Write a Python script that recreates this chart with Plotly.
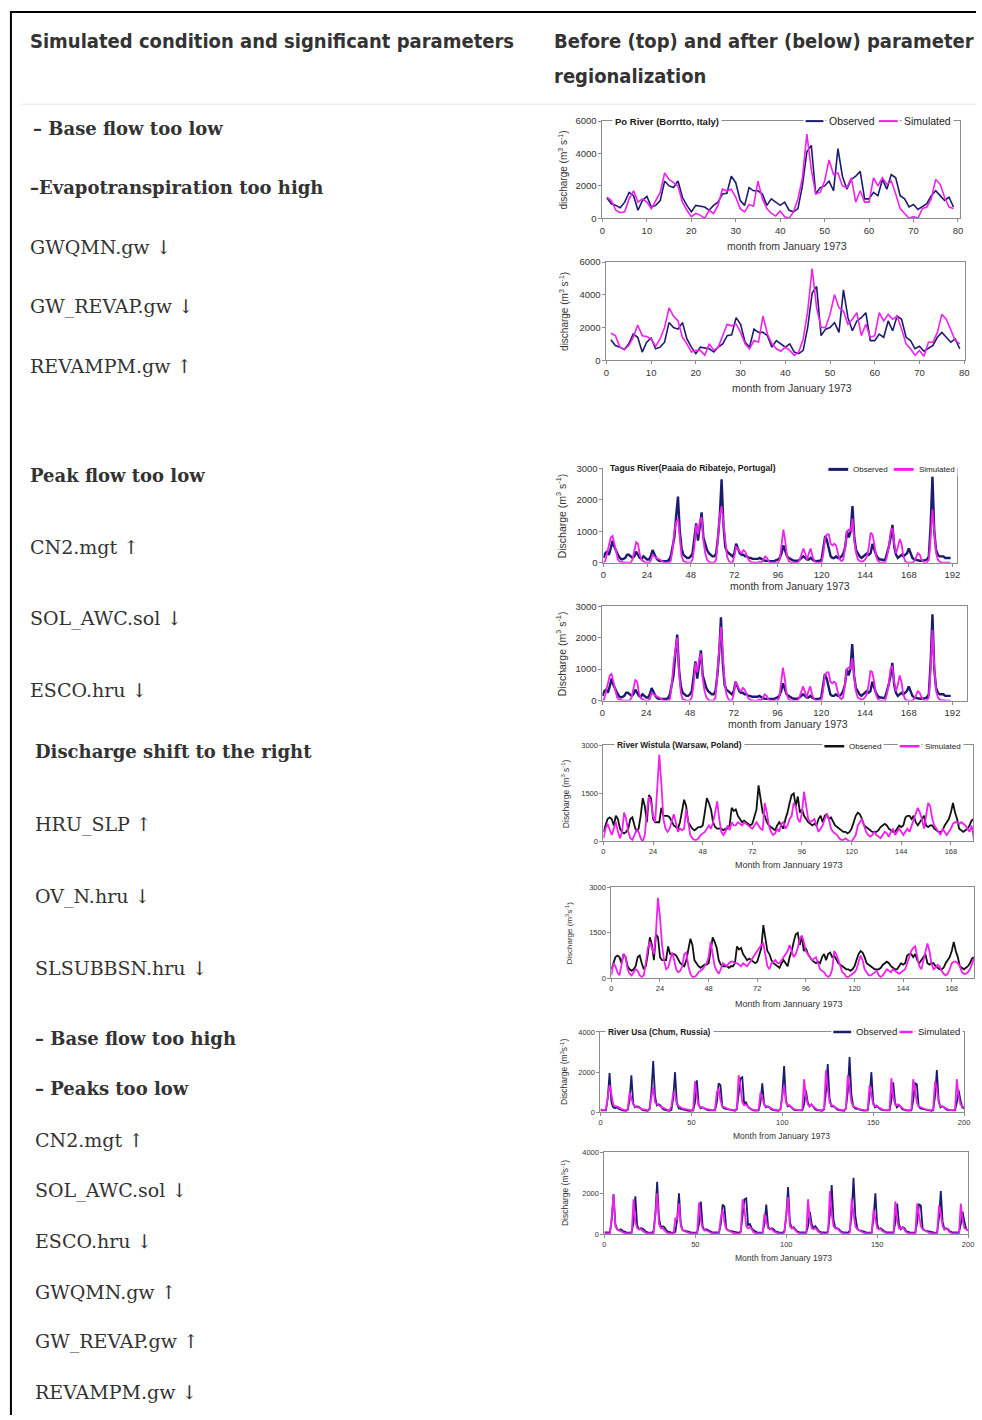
import plotly.graph_objects as go

# ---------------- data ----------------
# Po River (Borretto, Italy), months 1..79
po_month = list(range(1, 80))
po_observed = [
    1250, 900, 800, 650, 1000, 1600, 1400, 500, 1100, 1350,
    700, 800, 1100, 2300, 2000, 1900, 2300, 1300, 800, 400,
    800, 750, 700, 500, 800, 1000, 1500, 1550, 2600, 2200,
    1100, 800, 1900, 1700, 1700, 1500, 800, 1200, 1000, 800,
    1000, 500, 400, 600, 2000, 4100, 4500, 1500, 1900, 2000,
    2300, 1700, 4300, 2600, 1800, 2400, 2600, 2900, 1200, 1200,
    1600, 1400, 2400, 1800, 2700, 2500, 1400, 1200, 700, 850,
    550, 700, 900, 1400, 1700, 1400, 1100, 1300, 700]
po_sim_before = [
    1300, 1100, 500, 350, 400, 1200, 1700, 1000, 1200, 1000,
    600, 1100, 1600, 2800, 2400, 2200, 2000, 1000, 500, 100,
    300, 200, 0, 500, 300, 800, 1800, 1700, 1800, 1300,
    600, 400, 850, 750, 2300, 1200, 600, 300, 150, 450,
    100, 0, 400, 1200, 2500, 5200, 3000, 1500, 1600, 2300,
    3600, 2700, 2800, 2000, 1900, 2500, 1000, 1700, 1000, 1000,
    2500, 2000, 2500, 2100, 2300, 1500, 600, 300, 0, 100,
    0, 600, 700, 1200, 2400, 2100, 1300, 700, 600]
po_sim_after = [
    1650, 1500, 800, 650, 900, 1400, 2150, 1500, 1450, 1300,
    850, 1300, 2000, 3200, 2700, 2400, 1400, 1000, 500, 600,
    600, 300, 1000, 600, 800, 1500, 2200, 2100, 2200, 1700,
    1000, 700, 1200, 1100, 2700, 1600, 1000, 700, 550, 800,
    600, 300, 500, 1300, 3000, 5600, 3200, 2000, 2000, 2800,
    4000, 3200, 3000, 2200, 2500, 2900, 1500, 2200, 1400, 1500,
    2900, 2400, 2800, 2500, 2700, 1900, 1000, 700, 300, 600,
    250, 1100, 1100, 1700, 2800, 2500, 1800, 1200, 1000]

# Tagus River (Ribatejo, Portugal), months 0..191
tagus_month = list(range(0, 192))
tagus_observed = [
    150, 300, 350, 250, 450, 700, 500, 350, 250, 150, 100, 120,
    150, 250, 250, 200, 150, 200, 350, 250, 150, 120, 200, 150,
    100, 100, 200, 400, 250, 150, 80, 50, 50, 60, 50, 50,
    80, 200, 500, 800, 1500, 2100, 1000, 450, 250, 200, 150, 150,
    200, 300, 700, 1250, 700, 1100, 1600, 800, 550, 400, 300, 250,
    200, 200, 300, 800, 1500, 2650, 1200, 500, 350, 300, 250, 200,
    300, 600, 450, 300, 250, 250, 200, 200, 150, 150, 120, 120,
    100, 120, 150, 100, 80, 60, 50, 60, 50, 50, 50, 80,
    100, 150, 300, 550, 400, 200, 150, 100, 80, 60, 50, 60,
    100, 150, 200, 150, 100, 100, 150, 100, 60, 50, 50, 60,
    100, 500, 850, 700, 400, 200, 150, 150, 200, 150, 150, 200,
    300, 500, 1000, 800, 1000, 1800, 800, 400, 300, 200, 150, 200,
    250, 300, 250, 300, 600, 400, 250, 150, 100, 100, 80, 100,
    300, 500, 800, 1200, 500, 250, 150, 200, 250, 200, 250, 300,
    450, 300, 150, 100, 80, 60, 60, 60, 60, 80, 100, 200,
    1200, 2750, 1000, 400, 250, 200, 200, 200, 150, 150, 150, 150]
tagus_sim_before = [
    0, 50, 300, 600, 800, 850, 600, 300, 100, 30, 10, 10,
    0, 0, 0, 0, 100, 350, 650, 600, 250, 80, 30, 10,
    0, 0, 50, 250, 200, 150, 120, 100, 50, 20, 0, 0,
    0, 50, 400, 1000, 1300, 1400, 700, 200, 50, 20, 0, 0,
    0, 100, 500, 1200, 900, 1300, 1450, 700, 300, 100, 30, 0,
    0, 0, 100, 800, 1500, 1800, 1300, 600, 200, 50, 0, 0,
    200, 500, 450, 350, 300, 400, 350, 200, 80, 20, 0, 0,
    0, 0, 30, 0, 100, 200, 150, 30, 0, 0, 0, 0,
    0, 100, 600, 1050, 700, 200, 50, 10, 0, 0, 0, 0,
    100, 300, 450, 300, 100, 300, 450, 200, 50, 0, 0, 0,
    0, 300, 800, 900, 900, 600, 550, 600, 550, 300, 100, 50,
    100, 500, 1000, 1050, 1000, 1400, 700, 300, 100, 50, 30, 50,
    100, 200, 500, 950, 900, 600, 200, 50, 0, 0, 0, 0,
    200, 500, 1000, 1100, 600, 300, 500, 750, 600, 200, 50, 0,
    0, 0, 0, 50, 200, 300, 250, 100, 30, 0, 0, 100,
    800, 1700, 1000, 300, 100, 30, 10, 0, 0, 0, 0, 0]
tagus_sim_after = [
    0, 50, 300, 600, 800, 850, 600, 300, 100, 30, 10, 10,
    0, 0, 0, 0, 100, 350, 650, 600, 250, 80, 30, 10,
    0, 0, 50, 250, 200, 150, 120, 100, 50, 20, 0, 0,
    0, 50, 500, 1200, 1700, 2000, 900, 250, 50, 20, 0, 0,
    0, 100, 500, 1200, 900, 1300, 1500, 700, 300, 100, 30, 0,
    0, 0, 100, 900, 1800, 2350, 1500, 600, 200, 50, 0, 0,
    200, 600, 500, 350, 300, 400, 350, 200, 80, 20, 0, 0,
    0, 0, 30, 0, 100, 200, 150, 30, 0, 0, 0, 0,
    0, 100, 600, 1050, 700, 200, 50, 10, 0, 0, 0, 0,
    100, 300, 450, 300, 100, 300, 450, 200, 50, 0, 0, 0,
    0, 300, 800, 900, 900, 600, 550, 600, 550, 300, 100, 50,
    100, 500, 1000, 1050, 1000, 1350, 700, 300, 100, 50, 30, 50,
    100, 200, 500, 950, 900, 600, 200, 50, 0, 0, 0, 0,
    200, 500, 1000, 1100, 600, 300, 500, 800, 600, 200, 50, 0,
    0, 0, 0, 50, 200, 300, 250, 100, 30, 0, 0, 100,
    1000, 2250, 1100, 300, 100, 30, 10, 0, 0, 0, 0, 0]

# River Wistula (Warsaw, Poland), months 0..179
wistula_month = list(range(0, 180))
wistula_observed = [
    300, 500, 700, 750, 700, 500, 800, 700, 400, 300, 250, 300,
    400, 700, 750, 500, 300, 400, 800, 1350, 1100, 600, 1450, 1350,
    700, 600, 600, 600, 1050, 800, 800, 800, 750, 600, 500, 450,
    400, 600, 900, 1300, 1100, 600, 500, 400, 350, 400, 450, 450,
    500, 900, 1350, 1200, 1000, 600, 450, 400, 400, 400, 350, 400,
    400, 500, 1050, 950, 1000, 800, 700, 600, 650, 600, 550, 500,
    550, 800, 1000, 1750, 1300, 900, 800, 600, 500, 450, 400, 350,
    500, 600, 500, 400, 700, 900, 1200, 1450, 1500, 1100, 1400, 900,
    1000, 800, 700, 600, 550, 500, 550, 500, 700, 800, 600, 800,
    850, 700, 750, 600, 500, 450, 400, 350, 300, 300, 250, 300,
    400, 600, 800, 900, 850, 700, 500, 450, 400, 350, 300, 300,
    300, 350, 450, 500, 550, 500, 400, 350, 300, 300, 400, 500,
    450, 500, 750, 800, 800, 700, 800, 600, 500, 600, 700, 800,
    500, 450, 500, 500, 400, 350, 300, 300, 350, 500, 600, 700,
    900, 1200, 900, 700, 400, 350, 300, 350, 400, 500, 650, 700]
wistula_sim_before = [
    100, 400, 550, 400, 200, 400, 600, 300, 100, 300, 900, 700,
    300, 100, 50, 200, 350, 300, 100, 0, 200, 900, 1400, 1200,
    800, 600, 1500, 2700, 1800, 700, 400, 300, 400, 650, 850, 600,
    300, 400, 350, 400, 1000, 600, 200, 100, 50, 50, 100, 200,
    250, 300, 400, 500, 400, 600, 900, 1250, 700, 300, 200, 300,
    500, 350, 600, 500, 500, 600, 550, 500, 600, 550, 500, 450,
    400, 500, 600, 500, 400, 350, 1200, 900, 500, 300, 200, 250,
    400, 300, 550, 600, 400, 500, 700, 800, 1200, 1100, 700, 600,
    900, 1550, 1100, 700, 600, 650, 700, 500, 300, 400, 500, 700,
    850, 700, 400, 300, 250, 200, 100, 50, 50, 100, 50, 0,
    0, 100, 200, 500, 600, 700, 500, 300, 200, 150, 200, 300,
    200, 150, 100, 200, 300, 250, 150, 300, 400, 200, 300, 400,
    300, 200, 300, 400, 300, 500, 700, 900, 1050, 900, 700, 400,
    800, 1200, 1100, 700, 500, 400, 300, 200, 400, 300, 200, 300,
    400, 550, 600, 600, 550, 600, 550, 500, 400, 300, 500, 100]
wistula_sim_after = [
    100, 500, 400, 200, 100, 400, 800, 700, 300, 150, 100, 200,
    300, 250, 100, 50, 100, 500, 1000, 1200, 1000, 800, 1500, 2650,
    2000, 1100, 600, 300, 350, 600, 850, 600, 300, 200, 250, 400,
    800, 850, 400, 150, 50, 50, 100, 200, 250, 300, 400, 500,
    700, 1200, 800, 400, 250, 150, 300, 500, 450, 400, 500, 550,
    550, 500, 500, 450, 400, 500, 450, 400, 500, 600, 700, 800,
    900, 1000, 1100, 1150, 700, 400, 300, 500, 550, 600, 500, 500,
    600, 700, 800, 900, 1100, 900, 700, 800, 1000, 1300, 1400, 1200,
    900, 800, 700, 600, 650, 700, 500, 300, 250, 200, 100, 50,
    100, 300, 900, 800, 600, 400, 200, 150, 50, 50, 100, 150,
    200, 300, 500, 750, 600, 300, 200, 100, 100, 150, 200, 250,
    100, 50, 100, 200, 300, 250, 200, 300, 250, 200, 150, 200,
    250, 300, 500, 700, 900, 1000, 1050, 700, 400, 300, 600, 900,
    1150, 900, 500, 300, 350, 450, 400, 250, 150, 100, 150, 300,
    500, 550, 550, 500, 400, 200, 150, 150, 200, 300, 500, 650]

# River Usa (Chum, Russia), months 0..200
usa_month = list(range(0, 201))
usa_observed = [
    100, 90, 80, 100, 700, 1950, 500, 250, 200, 250, 180, 120,
    100, 90, 80, 120, 600, 1850, 450, 250, 300, 280, 180, 120,
    100, 90, 80, 150, 1000, 2550, 800, 350, 400, 350, 200, 130,
    100, 90, 80, 120, 700, 2000, 500, 200, 180, 150, 120, 100,
    90, 80, 80, 100, 500, 1600, 400, 200, 250, 200, 150, 110,
    100, 90, 80, 100, 500, 1450, 1350, 300, 200, 180, 150, 110,
    100, 90, 80, 150, 900, 1700, 1750, 450, 500, 300, 200, 130,
    100, 90, 80, 100, 500, 1450, 400, 250, 300, 250, 150, 110,
    100, 90, 80, 150, 900, 2300, 600, 300, 350, 250, 150, 110,
    100, 90, 80, 100, 400, 1100, 500, 300, 400, 300, 150, 110,
    100, 90, 80, 150, 1000, 2400, 700, 300, 300, 250, 150, 110,
    100, 90, 80, 200, 1000, 2750, 900, 300, 200, 180, 150, 110,
    100, 90, 80, 100, 800, 2000, 500, 250, 300, 200, 150, 110,
    100, 90, 80, 100, 600, 1500, 500, 250, 350, 300, 150, 110,
    100, 90, 80, 100, 600, 1450, 1400, 300, 200, 180, 150, 110,
    100, 90, 80, 100, 800, 2100, 600, 250, 300, 250, 150, 110,
    100, 90, 80, 100, 500, 1100, 600, 250, 200]
usa_sim_before = [
    150, 120, 100, 150, 900, 1350, 900, 400, 300, 300, 250, 180,
    150, 120, 100, 150, 1000, 700, 400, 300, 250, 250, 200, 150,
    150, 120, 100, 200, 800, 1250, 500, 400, 350, 300, 250, 180,
    150, 120, 100, 300, 950, 900, 400, 300, 250, 200, 180, 150,
    130, 110, 100, 150, 1550, 800, 350, 250, 250, 200, 180, 150,
    130, 110, 100, 150, 1000, 1200, 600, 300, 250, 200, 180, 150,
    130, 110, 100, 200, 1850, 1300, 500, 350, 400, 300, 200, 150,
    130, 110, 100, 150, 1000, 700, 400, 300, 300, 250, 180, 150,
    130, 110, 100, 150, 800, 1350, 500, 350, 350, 250, 180, 150,
    130, 110, 100, 150, 1650, 800, 400, 300, 400, 300, 200, 150,
    130, 110, 100, 200, 2100, 1200, 500, 350, 350, 250, 180, 150,
    130, 110, 100, 200, 1850, 1200, 500, 300, 250, 200, 180, 150,
    130, 110, 100, 150, 1350, 900, 400, 300, 350, 250, 180, 150,
    130, 110, 100, 150, 1700, 800, 400, 350, 400, 300, 200, 150,
    130, 110, 100, 150, 1650, 1100, 500, 300, 250, 200, 180, 150,
    130, 110, 100, 150, 1550, 1200, 500, 300, 300, 250, 180, 150,
    130, 110, 100, 150, 1650, 800, 400, 300, 250]
usa_sim_after = [
    50, 40, 30, 50, 800, 1950, 400, 250, 200, 150, 100, 60,
    50, 40, 30, 50, 1700, 600, 300, 250, 250, 150, 100, 60,
    50, 40, 30, 50, 900, 2000, 500, 300, 300, 200, 100, 60,
    50, 40, 30, 800, 700, 1500, 400, 200, 150, 100, 80, 60,
    50, 40, 30, 50, 1550, 700, 300, 200, 200, 150, 100, 60,
    50, 40, 30, 50, 800, 1200, 600, 250, 200, 150, 100, 60,
    50, 40, 30, 100, 1700, 1200, 400, 300, 350, 250, 100, 60,
    50, 40, 30, 50, 1000, 700, 300, 250, 250, 150, 100, 60,
    50, 40, 30, 100, 900, 1800, 400, 300, 300, 200, 100, 60,
    50, 40, 30, 50, 1700, 700, 300, 250, 300, 200, 100, 60,
    50, 40, 30, 100, 2100, 1000, 400, 300, 300, 200, 100, 60,
    50, 40, 30, 100, 1750, 1000, 400, 250, 200, 150, 100, 60,
    50, 40, 30, 50, 1200, 800, 300, 250, 250, 150, 100, 60,
    50, 40, 30, 50, 1600, 700, 300, 300, 350, 200, 100, 60,
    50, 40, 30, 50, 1500, 1000, 400, 250, 200, 150, 100, 60,
    50, 40, 30, 50, 1400, 1000, 400, 250, 300, 200, 100, 60,
    50, 40, 30, 50, 1500, 700, 300, 250, 200]

# Left-hand column of the table: (text, bold)
conditions = [
    ("\u2013 Base flow too low", True),
    ("\u2013Evapotranspiration too high", True),
    ("GWQMN.gw \u2193", False),
    ("GW_REVAP.gw \u2193", False),
    ("REVAMPM.gw \u2191", False),
    ("Peak flow too low", True),
    ("CN2.mgt \u2191", False),
    ("SOL_AWC.sol \u2193", False),
    ("ESCO.hru \u2193", False),
    ("Discharge shift to the right", True),
    ("HRU_SLP \u2191", False),
    ("OV_N.hru \u2193", False),
    ("SLSUBBSN.hru \u2193", False),
    ("\u2013 Base flow too high", True),
    ("\u2013 Peaks too low", True),
    ("CN2.mgt \u2191", False),
    ("SOL_AWC.sol \u2193", False),
    ("ESCO.hru \u2193", False),
    ("GWQMN.gw \u2191", False),
    ("GW_REVAP.gw \u2191", False),
    ("REVAMPM.gw \u2193", False),
]
header_left = "Simulated condition and significant parameters"
header_right = ["Before (top) and after (below) parameter", "regionalization"]

# ---------------- layout helpers ----------------
W, H = 982, 1420


def fx(px):
    return px / W


def fy(py):
    return 1 - py / H


NAVY = "#1c1c6e"
MAGENTA = "#f020ee"
BLACK = "#111111"
AXIS_GREY = "#8c8c8c"
TEXT = "#333333"
SANS = "Liberation Sans, Arial, sans-serif"
SERIF = "DejaVu Serif, serif"
HEAD = "DejaVu Sans Condensed, DejaVu Sans, sans-serif"

# placement of the left-column lines: (x px, y px)
condition_pos = [
    (28, 123), (25, 183), (25, 243), (25, 303), (25, 363),
    (25, 473), (25, 545), (25, 617), (25, 689),
    (30, 751), (30, 825), (30, 897), (30, 970),
    (30, 1041), (30, 1091), (30, 1143), (30, 1194), (30, 1245),
    (30, 1296), (30, 1346), (30, 1397),
]

panels = [
    dict(x=po_month, obs=po_observed, sim=po_sim_before, oc=NAVY, ow=1.6, sw=1.6,
         xd=(605, 966), yd=(116, 214), xr=[0, 80.5], yr=[0, 6000],
         xt=list(range(0, 81, 10)), yt=[0, 2000, 4000, 6000], tf=9.5,
         top=True, ytitle="discharge (m<sup>3</sup> s<sup>-1</sup>)", yts=10, ytx=565,
         xtitle="month from January 1973", xts=10.5, xtx=791, xty=242),
    dict(x=po_month, obs=po_observed, sim=po_sim_after, oc=NAVY, ow=1.6, sw=1.6,
         xd=(609, 971), yd=(258, 357), xr=[0, 80.2], yr=[0, 6000],
         xt=list(range(0, 81, 10)), yt=[0, 2000, 4000, 6000], tf=9.5,
         top=True, ytitle="discharge (m<sup>3</sup> s<sup>-1</sup>)", yts=10, ytx=566,
         xtitle="month from January 1973", xts=10.5, xtx=796, xty=385),
    dict(x=tagus_month, obs=tagus_observed, sim=tagus_sim_before, oc=NAVY, ow=2.4, sw=1.8,
         xd=(606, 963), yd=(466, 561), xr=[0, 194.6], yr=[0, 3000],
         xt=list(range(0, 193, 24)), yt=[0, 1000, 2000, 3000], tf=9.5,
         top=False, ytitle="Discharge (m<sup>3</sup> s<sup>-1</sup>)", yts=10.5, ytx=563,
         xtitle="month from January 1973", xts=10.5, xtx=794, xty=585),
    dict(x=tagus_month, obs=tagus_observed, sim=tagus_sim_after, oc=NAVY, ow=2.4, sw=1.8,
         xd=(605, 973), yd=(605, 700), xr=[0, 200], yr=[0, 3000],
         xt=list(range(0, 193, 24)), yt=[0, 1000, 2000, 3000], tf=9.5,
         top=True, ytitle="Discharge (m<sup>3</sup> s<sup>-1</sup>)", yts=10.5, ytx=563,
         xtitle="month from January 1973", xts=10.5, xtx=792, xty=724),
    dict(x=wistula_month, obs=wistula_observed, sim=wistula_sim_before, oc=BLACK, ow=1.8, sw=1.8,
         xd=(606, 979), yd=(745, 842), xr=[0, 178.7], yr=[0, 3000],
         xt=list(range(0, 169, 24)), yt=[0, 1500, 3000], tf=7.5,
         top=True, ytitle="Discharge (m<sup>3</sup> s<sup>-1</sup>)", yts=8.5, ytx=568,
         xtitle="Month from Jannuary 1973", xts=9, xtx=793, xty=866),
    dict(x=wistula_month, obs=wistula_observed, sim=wistula_sim_after, oc=BLACK, ow=1.8, sw=1.8,
         xd=(614, 980), yd=(888, 980), xr=[0, 179], yr=[0, 3000],
         xt=list(range(0, 169, 24)), yt=[0, 1500, 3000], tf=7.5,
         top=True, ytitle="Discharge (m<sup>3</sup>s<sup>-1</sup>)", yts=8, ytx=571,
         xtitle="Month from Jannuary 1973", xts=9, xtx=793, xty=1006),
    dict(x=usa_month, obs=usa_observed, sim=usa_sim_before, oc=NAVY, ow=1.8, sw=1.8,
         xd=(603, 970), yd=(1034, 1115), xr=[0, 200], yr=[0, 4000],
         xt=[0, 50, 100, 150, 200], yt=[0, 2000, 4000], tf=7.5,
         top=True, ytitle="Discharge (m<sup>3</sup>s<sup>-1</sup>)", yts=8.5, ytx=566,
         xtitle="Month from January 1973", xts=8.5, xtx=786, xty=1139),
    dict(x=usa_month, obs=usa_observed, sim=usa_sim_after, oc=NAVY, ow=1.8, sw=1.8,
         xd=(607, 974), yd=(1155, 1238), xr=[0, 200], yr=[0, 4000],
         xt=[0, 50, 100, 150, 200], yt=[0, 2000, 4000], tf=7.5,
         top=True, ytitle="Discharge (m<sup>3</sup>s<sup>-1</sup>)", yts=8.5, ytx=567,
         xtitle="Month from January 1973", xts=8.5, xtx=788, xty=1262),
]

# in-frame titles and legend keys of the "before" panels
panel_titles = [
    ("Po River (Borrtto, Italy)", 615, 116, 9.5),
    ("Tagus River(Paaia do Ribatejo, Portugal)", 610, 466, 8.6),
    ("River Wistula (Warsaw, Poland)", 617, 745, 8.4),
    ("River Usa (Chum, Russia)", 608, 1034, 8.4),
]
panel_legends = [
    (116, 10.5, 2.0, [(810, 828, NAVY, "Observed", 831), (884, 903, MAGENTA, "Simulated", 906)]),
    (467, 8.0, 3.0, [(833, 853, NAVY, "Observed", 855), (899, 919, MAGENTA, "Simulated", 921)]),
    (746, 8.0, 2.5, [(829, 849, BLACK, "Obsened", 851), (905, 925, MAGENTA, "Simulated", 927)]),
    (1034, 9.5, 2.5, [(838, 856, NAVY, "Observed", 858), (900, 918, MAGENTA, "Simulated", 920)]),
]

fig = go.Figure()
layout = dict(
    width=W, height=H, margin=dict(l=0, r=0, t=0, b=0),
    paper_bgcolor="white", plot_bgcolor="white", showlegend=False,
    font=dict(family=SANS, color=TEXT),
)
annotations = []
shapes = []

for i, p in enumerate(panels):
    n = "" if i == 0 else str(i + 1)
    fig.add_trace(go.Scatter(x=p["x"], y=p["obs"], mode="lines", name="Observed",
                             line=dict(color=p["oc"], width=p["ow"]),
                             xaxis="x" + n, yaxis="y" + n))
    fig.add_trace(go.Scatter(x=p["x"], y=p["sim"], mode="lines", name="Simulated",
                             line=dict(color=MAGENTA, width=p["sw"]),
                             xaxis="x" + n, yaxis="y" + n))
    common = dict(showline=True, linecolor=AXIS_GREY, linewidth=1, ticks="outside",
                  ticklen=3, tickcolor=AXIS_GREY, tickwidth=1, showgrid=False,
                  zeroline=False, fixedrange=True,
                  tickfont=dict(family=SANS, size=p["tf"], color=TEXT))
    layout["xaxis" + n] = dict(common, domain=[fx(p["xd"][0]), fx(p["xd"][1])],
                               range=p["xr"], tickvals=p["xt"], anchor="y" + n,
                               mirror=p["top"])
    layout["yaxis" + n] = dict(common, domain=[fy(p["yd"][1]), fy(p["yd"][0])],
                               range=p["yr"], tickvals=p["yt"], anchor="x" + n,
                               mirror=True)
    annotations.append(dict(xref="paper", yref="paper", x=fx(p["ytx"]),
                            y=fy((p["yd"][0] + p["yd"][1]) / 2), text=p["ytitle"],
                            textangle=-90, showarrow=False, xanchor="center", yanchor="middle",
                            font=dict(family=SANS, size=p["yts"], color=TEXT)))
    annotations.append(dict(xref="paper", yref="paper", x=fx(p["xtx"]), y=fy(p["xty"]),
                            text=p["xtitle"], showarrow=False, xanchor="center",
                            yanchor="middle", font=dict(family=SANS, size=p["xts"], color=TEXT)))

for txt, x0, y0, fs in panel_titles:
    annotations.append(dict(xref="paper", yref="paper", x=fx(x0), y=fy(y0),
                            text="<b>" + txt + "</b>", showarrow=False, xanchor="left",
                            yanchor="middle", bgcolor="white", borderpad=2,
                            font=dict(family=SANS, size=fs, color="#1a1a1a")))

for y0, fs, lw, items in panel_legends:
    for x0, x1, col, label, lx in items:
        shapes.append(dict(type="line", xref="paper", yref="paper", layer="above",
                           x0=fx(x0 - 2), x1=fx(x1 + 2), y0=fy(y0), y1=fy(y0),
                           line=dict(color="white", width=5)))
        shapes.append(dict(type="line", xref="paper", yref="paper", layer="above",
                           x0=fx(x0), x1=fx(x1), y0=fy(y0), y1=fy(y0),
                           line=dict(color=col, width=lw)))
        annotations.append(dict(xref="paper", yref="paper", x=fx(lx), y=fy(y0),
                                text=label, showarrow=False, xanchor="left",
                                yanchor="middle", bgcolor="white", borderpad=2,
                                font=dict(family=SANS, size=fs, color="#222222")))

# table header
annotations.append(dict(xref="paper", yref="paper", x=fx(25), y=fy(35), text="<b>" + header_left + "</b>",
                        showarrow=False, xanchor="left", yanchor="middle",
                        font=dict(family=HEAD, size=20, color=TEXT)))
for k, line in enumerate(header_right):
    annotations.append(dict(xref="paper", yref="paper", x=fx(554), y=fy(35 + 36 * k),
                            text="<b>" + line + "</b>", showarrow=False, xanchor="left",
                            yanchor="middle", font=dict(family=HEAD, size=20, color=TEXT)))

# left column text
for (txt, bold), (x0, y0) in zip(conditions, condition_pos):
    annotations.append(dict(xref="paper", yref="paper", x=fx(x0), y=fy(y0),
                            text=("<b>" + txt + "</b>") if bold else txt,
                            showarrow=False, xanchor="left", yanchor="middle",
                            font=dict(family=SERIF, size=18 if bold else 19, color=TEXT)))

# table rules
shapes += [
    dict(type="line", xref="paper", yref="paper", x0=fx(7), x1=1, y0=fy(6), y1=fy(6),
         line=dict(color="black", width=2)),
    dict(type="line", xref="paper", yref="paper", x0=fx(8), x1=fx(8), y0=fy(5), y1=0,
         line=dict(color="black", width=2)),
    dict(type="line", xref="paper", yref="paper", x0=fx(18), x1=1, y0=fy(99), y1=fy(99),
         line=dict(color="#e6e6e6", width=1)),
]

layout["annotations"] = annotations
layout["shapes"] = shapes
fig.update_layout(**layout)
fig.write_html("out.html", config={"displayModeBar": False})
